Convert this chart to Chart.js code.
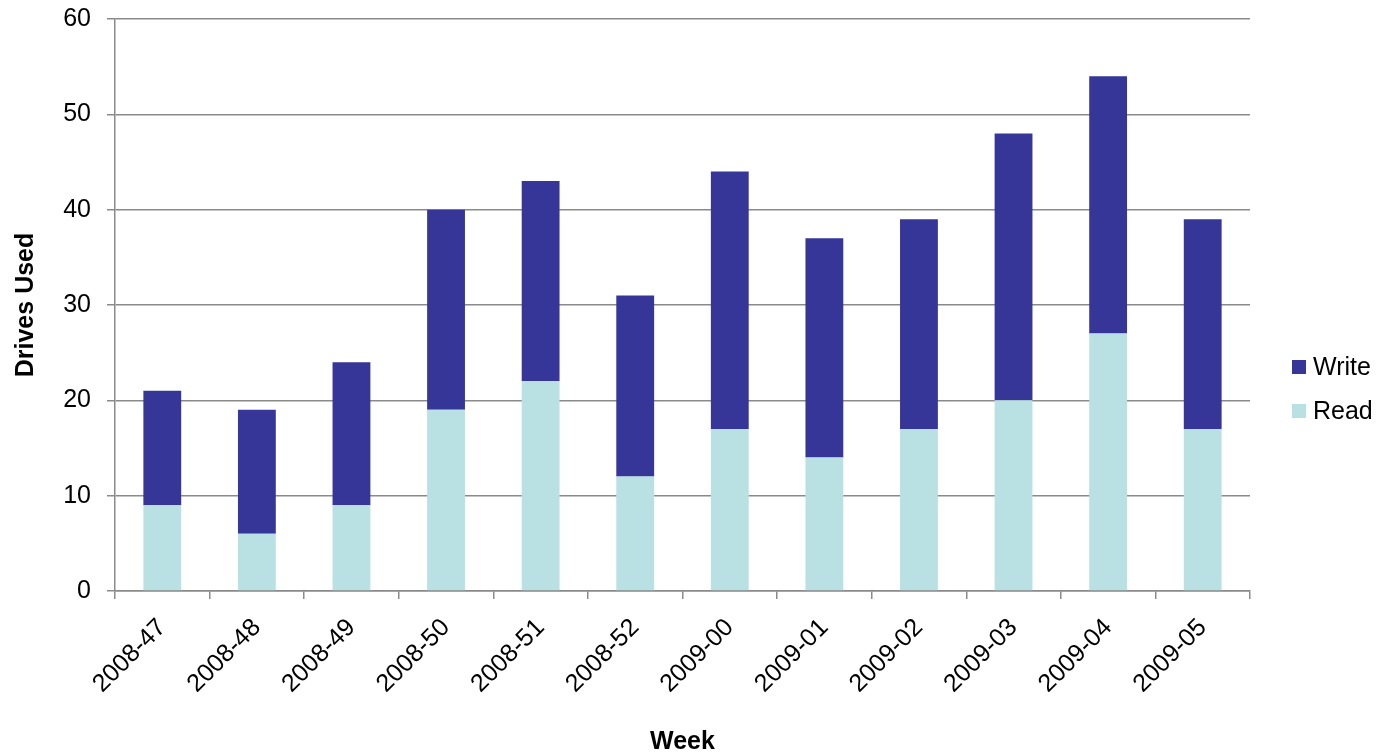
<!DOCTYPE html>
<html>
<head>
<meta charset="utf-8">
<script src="https://cdn.jsdelivr.net/npm/chart.js@4/dist/chart.umd.min.js"></script>
<style>
  html, body { margin: 0; padding: 0; background: #ffffff; }
  #wrap { width: 1383px; height: 755px; }
</style>
</head>
<body>
<div id="wrap"><canvas id="chart" width="1383" height="755"></canvas></div>
<script>
// Weekly drive usage, split into reads and writes
const weeks = ['2008-47', '2008-48', '2008-49', '2008-50', '2008-51', '2008-52',
               '2009-00', '2009-01', '2009-02', '2009-03', '2009-04', '2009-05'];
const readDrives  = [9, 6, 9, 19, 22, 12, 17, 14, 17, 20, 27, 17];
const writeDrives = [12, 13, 15, 21, 21, 19, 27, 23, 22, 28, 27, 22];
const yTicks = [0, 10, 20, 30, 40, 50, 60];

const READ_COLOR = '#b9e0e3';
const WRITE_COLOR = '#363698';
const GRID_COLOR = '#8a8a8a';
const FONT = 'Liberation Sans, Arial, sans-serif';

// Legend drawn to the right of the plot, Write above Read
const sideLegend = {
  id: 'sideLegend',
  afterDraw(chart) {
    const ctx = chart.ctx;
    const items = chart.data.datasets.slice().reverse();
    ctx.save();
    ctx.font = '25px ' + FONT;
    ctx.textBaseline = 'middle';
    items.forEach((ds, i) => {
      const y = 367 + i * 44;
      ctx.fillStyle = ds.backgroundColor;
      ctx.fillRect(1292, y - 7, 14, 14);
      ctx.fillStyle = '#000000';
      ctx.fillText(ds.label, 1313, y + 1);
    });
    ctx.restore();
  }
};

new Chart(document.getElementById('chart'), {
  type: 'bar',
  data: {
    labels: weeks,
    datasets: [
      { label: 'Read', data: readDrives, backgroundColor: READ_COLOR },
      { label: 'Write', data: writeDrives, backgroundColor: WRITE_COLOR }
    ]
  },
  options: {
    responsive: false,
    animation: false,
    devicePixelRatio: 1,
    layout: { padding: { top: 19, right: 133, left: 0, bottom: 0 } },
    datasets: { bar: { barPercentage: 0.4, categoryPercentage: 1.0 } },
    plugins: {
      legend: { display: false },
      tooltip: { enabled: false }
    },
    scales: {
      x: {
        stacked: true,
        afterFit(scale) {
          scale.height = 164;
          scale.paddingLeft = 0;
          scale.paddingRight = 0;
        },
        border: { color: GRID_COLOR, width: 1.5 },
        grid: {
          offset: true,
          drawOnChartArea: false,
          drawTicks: true,
          tickLength: 8,
          color: GRID_COLOR,
          lineWidth: 1.5
        },
        ticks: {
          minRotation: 45,
          maxRotation: 45,
          autoSkip: false,
          padding: 14,
          color: '#000000',
          font: { family: FONT, size: 25 }
        },
        title: {
          display: true,
          text: 'Week',
          color: '#000000',
          font: { family: FONT, size: 25, weight: 'bold' },
          padding: { top: 0, bottom: -2 }
        }
      },
      y: {
        stacked: true,
        min: 0,
        max: 60,
        afterFit(scale) {
          scale.width = 115;
          scale.paddingTop = 0;
          scale.paddingBottom = 0;
        },
        afterBuildTicks(scale) { scale.ticks = yTicks.map(v => ({ value: v })); },
        border: { color: GRID_COLOR, width: 1.5 },
        grid: {
          color: GRID_COLOR,
          lineWidth: 1.5,
          tickLength: 8
        },
        ticks: {
          padding: 16,
          color: '#000000',
          font: { family: FONT, size: 25 }
        },
        title: {
          display: true,
          text: 'Drives Used',
          color: '#000000',
          font: { family: FONT, size: 25, weight: 'bold' },
          padding: { top: 11, bottom: 0 }
        }
      }
    }
  },
  plugins: [sideLegend]
});
</script>
</body>
</html>
